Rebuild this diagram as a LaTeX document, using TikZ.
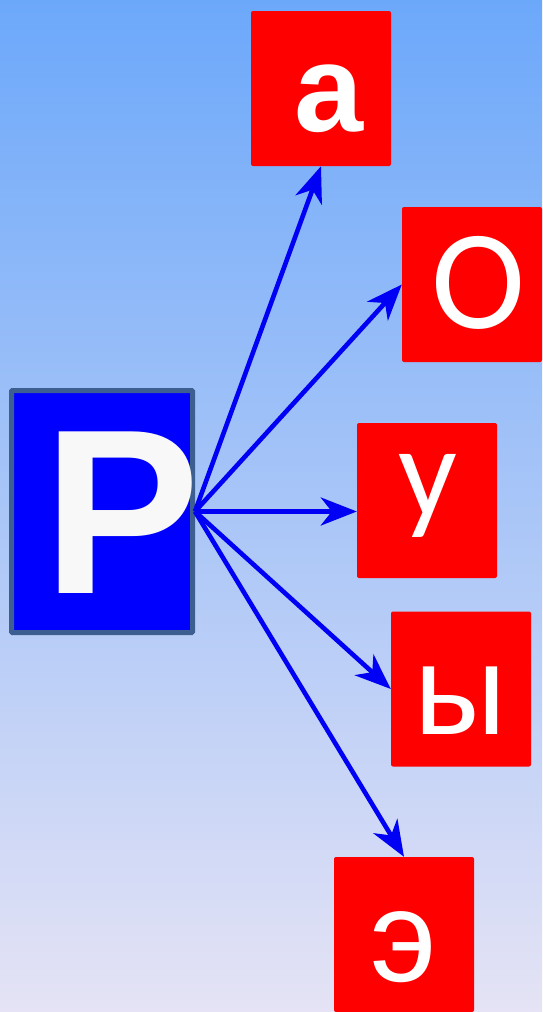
\documentclass[tikz,border=0pt]{standalone}
\usepackage{fontspec}
\setmainfont{Liberation Sans}
\newfontfamily\calfont{Carlito}
\usetikzlibrary{arrows.meta}
\definecolor{bgtop}{RGB}{108,168,250}
\definecolor{bgmid}{RGB}{163,199,243}
\definecolor{bgbot}{RGB}{229,227,245}
\definecolor{pbox}{RGB}{0,0,255}
\definecolor{pborder}{RGB}{60,94,145}
\definecolor{redbox}{RGB}{255,0,0}
\definecolor{arrowblue}{RGB}{0,0,245}
\definecolor{glyph}{RGB}{248,248,248}
\tikzset{
  vowelbox/.style={fill=redbox, rounded corners=2pt, minimum width=140pt, minimum height=155pt, inner sep=0pt},
  letter/.style={anchor=base, inner sep=0pt, text=white},
  link/.style={draw=arrowblue, line width=4.6pt, -{Stealth[length=36pt,width=28pt,inset=11pt]}},
}
\begin{document}
\begin{tikzpicture}[x=1pt,y=-1pt]
\shade[top color=bgtop, middle color=bgmid, bottom color=bgbot] (0,0) rectangle (542,1012);
\useasboundingbox (0,0) rectangle (542,1012);

\node[fill=pbox, draw=pborder, line width=5pt, minimum width=181pt, minimum height=242pt, inner sep=0pt, rounded corners=1pt] (p) at (102,511.5) {};
\node[letter, text=glyph, font=\bfseries\fontsize{235}{235}\selectfont] (pl) at (122,593) {Р};

\node[vowelbox] (a) at (321,88.5) {};
\node[vowelbox] (o) at (472,284.5) {};
\node[vowelbox] (u) at (427,500.5) {};
\node[vowelbox] (y) at (461,689) {};
\node[vowelbox] (e) at (404,934.5) {};

\node[letter, font=\bfseries\fontsize{124}{124}\selectfont] (al) at (329,131) {а};
\node[letter, font=\calfont\fontsize{142}{142}\selectfont] (ol) at (479,328) {О};
\node[letter, font=\calfont\fontsize{130}{130}\selectfont] (ul) at (428,516) {у};
\node[letter, font=\fontsize{128}{128}\selectfont] (yl) at (460,734) {ы};
\node[letter, font=\fontsize{130}{130}\selectfont] (el) at (404,981) {э};

\draw[link] (p.east) -- (a.south);
\draw[link] (p.east) -- (o.west);
\draw[link] (p.east) -- (p.east -| u.west);
\draw[link] (p.east) -- (y.west);
\draw[link] (p.east) -- (e.north);
\end{tikzpicture}
\end{document}
